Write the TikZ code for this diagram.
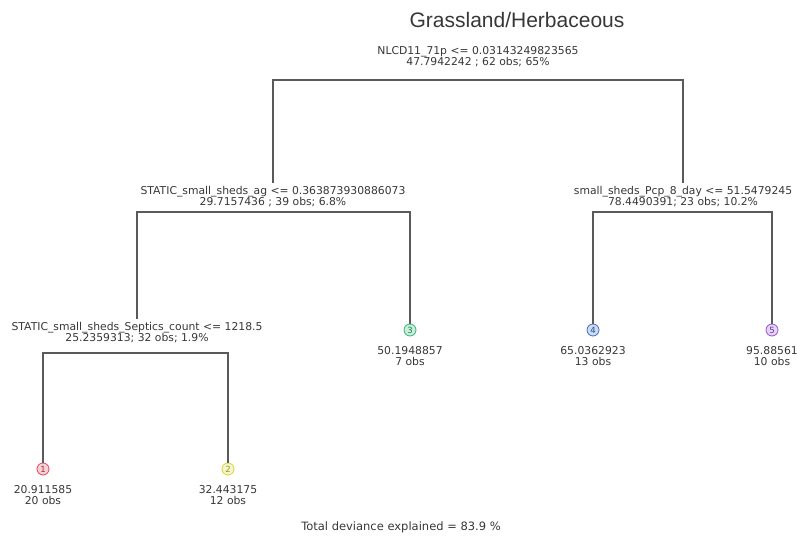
\documentclass[tikz,border=0pt]{standalone}
\usepackage{fontspec}
\setmainfont{DejaVu Sans}
\newfontfamily\titlefont{Liberation Sans}
\usetikzlibrary{positioning}
\definecolor{treegray}{RGB}{90,90,90}
\definecolor{txtgray}{RGB}{55,55,55}
\definecolor{leafred}{RGB}{225,70,90}
\definecolor{leafyellow}{RGB}{215,215,50}
\definecolor{leafgreen}{RGB}{50,180,120}
\definecolor{leafblue}{RGB}{60,110,200}
\definecolor{leafpurple}{RGB}{150,80,210}
\tikzset{
  split/.style={align=center, font=\fontsize{10.8}{11}\selectfont, text=txtgray, inner sep=3pt},
  leafdot/.style={circle, draw=#1, fill=#1!25, text=#1!70!black, minimum size=12pt,
                  inner sep=0pt, line width=0.8pt, font=\fontsize{8.5}{8.5}\selectfont},
  branch/.style={draw=treegray, line width=1.3pt}
}

\begin{document}
\begin{tikzpicture}[x=1pt, y=-1pt]
\useasboundingbox (0,0) rectangle (797,540);

% Title
\node[font=\titlefont\fontsize{21}{21}\selectfont, text=txtgray] (title) at (517,20) {Grassland/Herbaceous};

% Split labels
\node[split] (s1) at (478,56.5) {NLCD11\_71p <= 0.03143249823565\\47.7942242 ; 62 obs; 65\%};
\node[split] (s2) at (273,196.5) {STATIC\_small\_sheds\_ag <= 0.363873930886073\\29.7157436 ; 39 obs; 6.8\%};
\node[split] (s3) at (683,196.5) {small\_sheds\_Pcp\_8\_day <= 51.5479245\\78.4490391; 23 obs; 10.2\%};
\node[split] (s4) at (137,332.5) {STATIC\_small\_sheds\_Septics\_count <= 1218.5\\25.2359313; 32 obs; 1.9\%};

% Leaves
\foreach \n/\x/\y/\c/\v/\o in {1/43/469/leafred/20.911585/20,
                               2/228/469/leafyellow/32.443175/12,
                               3/410/330/leafgreen/50.1948857/7,
                               4/593/330/leafblue/65.0362923/13,
                               5/772/330/leafpurple/95.88561/10} {
  \node[leafdot=\c] (leaf\n) at (\x,\y) {\n};
  \node[split, below=7pt of leaf\n] (val\n) {\v\\\o{} obs};
}

% Bars
\coordinate (b1) at (478,80);
\coordinate (b2) at (273,212);
\coordinate (b3) at (683,212);
\coordinate (b4) at (137,353);
\draw[branch] (s2.north) |- (b1) -| (s3.north);
\draw[branch] (s4.north) |- (b2) -| (leaf3.north);
\draw[branch] (leaf4.north) |- (b3) -| (leaf5.north);
\draw[branch] (leaf1.north) |- (b4) -| (leaf2.north);

% Footer
\node[split, font=\fontsize{11.5}{12}\selectfont] (total) at (401,527) {Total deviance explained = 83.9 \%};

\end{tikzpicture}
\end{document}
